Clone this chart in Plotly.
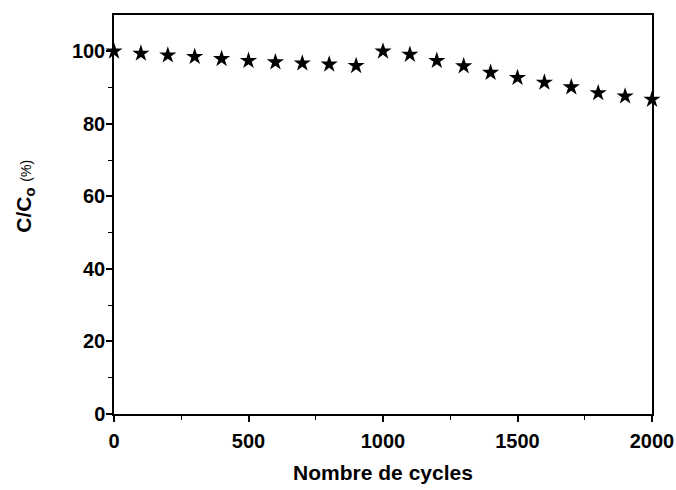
import plotly.graph_objects as go

cycles = [0, 100, 200, 300, 400, 500, 600, 700, 800, 900, 1000,
          1100, 1200, 1300, 1400, 1500, 1600, 1700, 1800, 1900, 2000]
retention = [100.0, 99.4, 98.9, 98.5, 97.9, 97.4, 97.0, 96.7, 96.4, 96.0, 100.0,
             99.1, 97.4, 95.9, 94.1, 92.7, 91.4, 90.1, 88.5, 87.6, 86.7]

x_ticks = [0, 500, 1000, 1500, 2000]
y_ticks = [0, 20, 40, 60, 80, 100]

FONT = "Liberation Sans, Arial, sans-serif"

fig = go.Figure()
fig.add_trace(go.Scatter(
    x=cycles, y=retention, mode="markers",
    marker=dict(symbol="star", size=13, color="black", line=dict(width=0)),
    cliponaxis=False, showlegend=False,
))

font_tick = dict(family=FONT, size=20, color="black", weight="bold")

fig.update_layout(
    width=676, height=490,
    margin=dict(l=114, r=24, t=15, b=76),
    plot_bgcolor="white", paper_bgcolor="white",
    font=dict(family=FONT, color="black"),
)
fig.update_xaxes(
    range=[0, 2000], tickvals=x_ticks, ticktext=[str(v) for v in x_ticks],
    showgrid=False, zeroline=False, automargin=False,
    showline=True, linecolor="black", linewidth=1.5, mirror=True,
    ticks="outside", ticklen=6, tickwidth=1.5, tickcolor="black",
    minor=dict(tickvals=[250, 750, 1250, 1750], ticks="outside", ticklen=4, tickwidth=1.2, tickcolor="black"),
    tickfont=font_tick, ticklabelstandoff=2,
    title=dict(text="<b>Nombre de cycles</b>", font=dict(size=21, family=FONT, color="black"), standoff=15),
)
fig.update_yaxes(
    range=[0, 110], tickvals=y_ticks, ticktext=[str(v) for v in y_ticks],
    showgrid=False, zeroline=False, automargin=False,
    showline=True, linecolor="black", linewidth=1.5, mirror=True,
    ticks="outside", ticklen=6, tickwidth=1.5, tickcolor="black",
    minor=dict(tickvals=[10, 30, 50, 70, 90], ticks="outside", ticklen=4, tickwidth=1.2, tickcolor="black"),
    tickfont=font_tick, ticklabelstandoff=-3,
)
fig.add_annotation(
    text="<b>C/C<sub>o</sub></b> <span style='font-size:14px'>(%)</span>",
    textangle=-90, xref="paper", yref="paper", x=-0.167, y=0.545,
    xanchor="center", yanchor="middle", showarrow=False,
    font=dict(size=21, family=FONT, color="black"),
)

fig.write_html("out.html", config={"displayModeBar": False},
               post_script="document.body.style.margin='0';")
